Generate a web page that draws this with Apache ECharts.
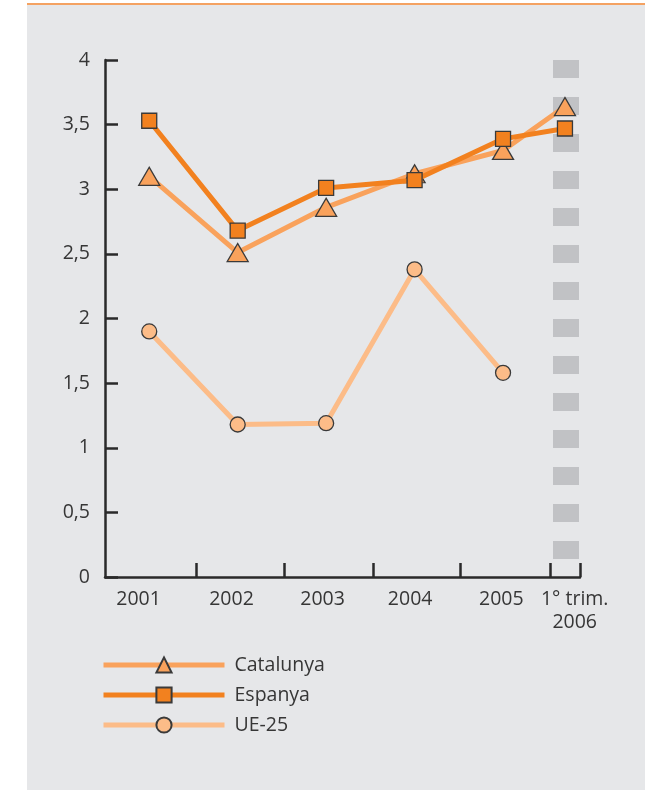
<!DOCTYPE html>
<html>
<head>
<meta charset="utf-8">
<script src="https://cdn.jsdelivr.net/npm/echarts@6/dist/echarts.min.js"></script>
<style>
  html, body { margin: 0; padding: 0; background: #ffffff; }
  #panel { position: absolute; left: 27px; top: 3px; width: 618px; height: 787px; background: #e6e7e9; border-top: 2px solid #f4a262; box-sizing: border-box; }
  #chart { position: absolute; left: 0; top: 0; width: 645px; height: 790px; }
</style>
</head>
<body>
<div id="panel"></div>
<div id="chart"></div>
<script>
// ---- data ----
const categories = ['2001', '2002', '2003', '2004', '2005', '1° trim.\n2006'];
const catalunya = [3.10, 2.51, 2.86, 3.12, 3.30, 3.64];
const espanya   = [3.53, 2.68, 3.01, 3.07, 3.39, 3.47];
const ue25      = [1.90, 1.18, 1.19, 2.38, 1.58, null];
const yTickLabels = ['0', '0,5', '1', '1,5', '2', '2,5', '3', '3,5', '4'];

// ---- layout (slot centres on the x scale; last slot is a narrow quarter) ----
const slotCentre = [0.5, 1.5, 2.5, 3.5, 4.5, 5.2];
const labelCentre = [0.38, 1.43, 2.46, 3.45, 4.48, 5.31];
const xMax = 5.37;
const slotBounds = [1.03, 2.03, 3.03, 4.02, 5.03, xMax];

function toPoints(vals) {
  const out = [];
  vals.forEach((v, i) => { if (v !== null) out.push([slotCentre[i], v]); });
  return out;
}

const font = '"Open Sans", "Noto Sans", sans-serif';
const textColor = '#363636';
const axisColor = '#2a2a2a';
const fs = 19.5;

const chart = echarts.init(document.getElementById('chart'), null, { renderer: 'canvas' });
chart.setOption({
  backgroundColor: 'transparent',
  animation: false,
  textStyle: { fontFamily: font },
  grid: { left: 105, right: 65, top: 60, bottom: 213, containLabel: false },
  xAxis: {
    type: 'value', min: 0, max: xMax,
    splitLine: { show: false },
    axisLine: { show: true, onZero: false, lineStyle: { color: axisColor, width: 2.5 } },
    axisTick: { show: true, inside: true, length: 14, customValues: slotBounds, lineStyle: { color: axisColor, width: 2.5 } },
    axisLabel: {
      show: true, margin: 11, color: textColor, fontSize: fs, fontFamily: font, lineHeight: 23,
      customValues: labelCentre,
      formatter: function (v) {
        let best = 0, d = 1e9;
        labelCentre.forEach((p, i) => { const dd = Math.abs(p - v); if (dd < d) { d = dd; best = i; } });
        return categories[best];
      }
    }
  },
  yAxis: {
    type: 'value', min: 0, max: 4, interval: 0.5,
    splitLine: { show: false },
    axisLine: { show: true, lineStyle: { color: axisColor, width: 2.5 } },
    axisTick: { show: true, inside: true, length: 13, lineStyle: { color: axisColor, width: 2.5 } },
    axisLabel: {
      margin: 15, color: textColor, fontSize: fs, fontFamily: font,
      formatter: function (v) { return yTickLabels[Math.round(v / 0.5)]; }
    }
  },
  legend: {
    orient: 'vertical', left: 101, top: 655, padding: 0,
    data: ['Catalunya', 'Espanya', 'UE-25'],
    itemWidth: 121, itemHeight: 19, itemGap: 10,
    lineStyle: { width: 5 },
    textStyle: { color: textColor, fontSize: fs, fontFamily: font, padding: [0, 0, 0, 5] }
  },
  series: [
    {
      name: 'band', type: 'line', data: [], z: 1, silent: true,
      markLine: {
        z: 1, silent: true, symbol: ['none', 'none'], label: { show: false },
        lineStyle: { color: '#c1c2c5', width: 26, type: [18, 19], cap: 'butt' },
        data: [[{ coord: [5.21, 4] }, { coord: [5.21, 0] }]]
      }
    },
    {
      name: 'UE-25', type: 'line', z: 2, data: toPoints(ue25),
      symbol: 'circle', symbolSize: 15,
      lineStyle: { color: '#fcbc88', width: 5 },
      itemStyle: { color: '#fcbc88', borderColor: '#3a3a3a', borderWidth: 1.3 }
    },
    {
      name: 'Catalunya', type: 'line', z: 3, data: toPoints(catalunya),
      symbol: 'triangle', symbolSize: [21, 18],
      lineStyle: { color: '#f9a25c', width: 5 },
      itemStyle: { color: '#f9a25c', borderColor: '#3a3a3a', borderWidth: 1.3 }
    },
    {
      name: 'Espanya', type: 'line', z: 4, data: toPoints(espanya),
      symbol: 'rect', symbolSize: 15,
      lineStyle: { color: '#f2811f', width: 5 },
      itemStyle: { color: '#f2811f', borderColor: '#3a3a3a', borderWidth: 1.3 }
    }
  ]
});
</script>
</body>
</html>
